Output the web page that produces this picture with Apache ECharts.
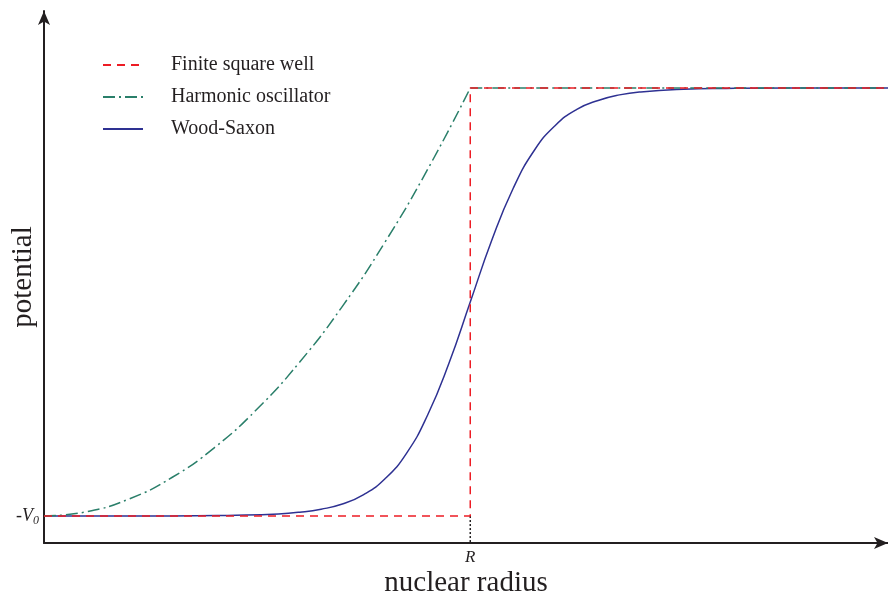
<!DOCTYPE html>
<html>
<head>
<meta charset="utf-8">
<script src="https://cdn.jsdelivr.net/npm/echarts@6/dist/echarts.min.js"></script>
<style>
  html, body { margin: 0; padding: 0; background: #fff; }
  #main { width: 888px; height: 597px; }
</style>
</head>
<body>
<div id="main"></div>
<script>
// radius in units of R, potential in units of V0
var seriesNames = ['Finite square well', 'Harmonic oscillator', 'Wood-Saxon']

var squareWell = [[0, -1], [1, -1], [1, 0], [1.98, 0]]

var harmonic = [
  [0, -1], [0.1, -0.99], [0.2, -0.96], [0.3, -0.91], [0.4, -0.84], [0.5, -0.75],
  [0.6, -0.64], [0.7, -0.51], [0.8, -0.36], [0.9, -0.19], [1, 0]
]
var harmonicTop = [[1, 0], [1.98, 0]]

var woodSaxon = [
  [0, -1], [0.3, -1], [0.45, -0.998], [0.55, -0.995], [0.6, -0.991], [0.65, -0.984],
  [0.7, -0.972], [0.75, -0.95], [0.8, -0.913], [0.85, -0.854], [0.9, -0.764],
  [0.95, -0.643], [1, -0.5], [1.05, -0.357], [1.1, -0.236], [1.15, -0.146],
  [1.2, -0.087], [1.25, -0.05], [1.3, -0.029], [1.35, -0.016], [1.4, -0.009],
  [1.5, -0.003], [1.6, -0.001], [1.75, 0], [1.98, 0]
]

var rMark = [[1, -1], [1, -1.063]]

var xTicks = [1]
var yTicks = [-1]

var serif = 'Liberation Serif'
var ink = '#231f20'

var chart = echarts.init(document.getElementById('main'))

chart.setOption({
  animation: false,
  grid: { left: 44, right: 0, top: 11, bottom: 54, containLabel: false, outerBoundsMode: 'none' },
  legend: {
    data: seriesNames,
    orient: 'vertical',
    left: 97,
    top: 50,
    itemWidth: 40,
    itemHeight: 14,
    itemGap: 12,
    itemStyle: { opacity: 0 },
    formatter: '{t|{name}}',
    textStyle: {
      fontFamily: serif,
      fontSize: 20,
      color: ink,
      rich: { t: { fontFamily: serif, fontSize: 20, color: ink, padding: [0, 0, 0, 23] } }
    }
  },
  xAxis: {
    type: 'value',
    min: 0,
    max: 1.98,
    name: 'nuclear radius',
    nameLocation: 'middle',
    nameGap: 26,
    nameMoveOverlap: false,
    nameTextStyle: { fontFamily: serif, fontSize: 29, color: ink },
    axisLine: {
      show: true,
      onZero: false,
      symbol: ['none', 'arrow'],
      symbolSize: [9, 14],
      lineStyle: { color: ink, width: 2 }
    },
    axisTick: { show: false },
    splitLine: { show: false },
    axisLabel: {
      customValues: xTicks,
      margin: 6,
      formatter: function () { return 'R' },
      fontFamily: serif,
      fontStyle: 'italic',
      fontSize: 17,
      color: ink
    }
  },
  yAxis: {
    type: 'value',
    min: -1.063,
    max: 0.18,
    name: 'potential',
    nameLocation: 'middle',
    nameGap: 6,
    nameMoveOverlap: false,
    nameTextStyle: { fontFamily: serif, fontSize: 29, color: ink },
    axisLine: {
      show: true,
      onZero: false,
      symbol: ['none', 'arrow'],
      symbolSize: [9, 14],
      lineStyle: { color: ink, width: 2 }
    },
    axisTick: { show: false },
    splitLine: { show: false },
    axisLabel: {
      customValues: yTicks,
      margin: 5,
      formatter: function () { return '{v|-V}{s|0}' },
      rich: {
        v: { fontFamily: serif, fontStyle: 'italic', fontSize: 18, color: ink },
        s: { fontFamily: serif, fontStyle: 'italic', fontSize: 12, color: ink, verticalAlign: 'bottom', padding: [9, 0, 0, 0] }
      }
    }
  },
  series: [
    {
      name: 'Wood-Saxon',
      type: 'line',
      data: woodSaxon,
      smooth: true,
      symbol: 'none',
      z: 3,
      color: '#2e3192',
      lineStyle: { color: '#2e3192', width: 1.5 }
    },
    {
      name: 'Finite square well',
      type: 'line',
      data: squareWell,
      symbol: 'none',
      z: 4,
      color: '#ed1c24',
      lineStyle: { color: '#ed1c24', width: 1.5, type: [8, 6] }
    },
    {
      name: 'Harmonic oscillator',
      type: 'line',
      data: harmonic,
      smooth: true,
      symbol: 'none',
      z: 3,
      color: '#2a7f6a',
      lineStyle: { color: '#2a7f6a', width: 1.5, type: [12, 4, 2, 4] }
    },
    {
      name: 'Harmonic oscillator',
      type: 'line',
      data: harmonicTop,
      symbol: 'none',
      z: 3,
      color: '#2a7f6a',
      lineStyle: { color: '#2a7f6a', width: 1.5, type: [12, 4, 2, 4] }
    },
    {
      name: 'R mark',
      type: 'line',
      data: rMark,
      symbol: 'none',
      z: 2,
      lineStyle: { color: ink, width: 1.5, type: [2, 2] }
    }
  ]
})
</script>
</body>
</html>
